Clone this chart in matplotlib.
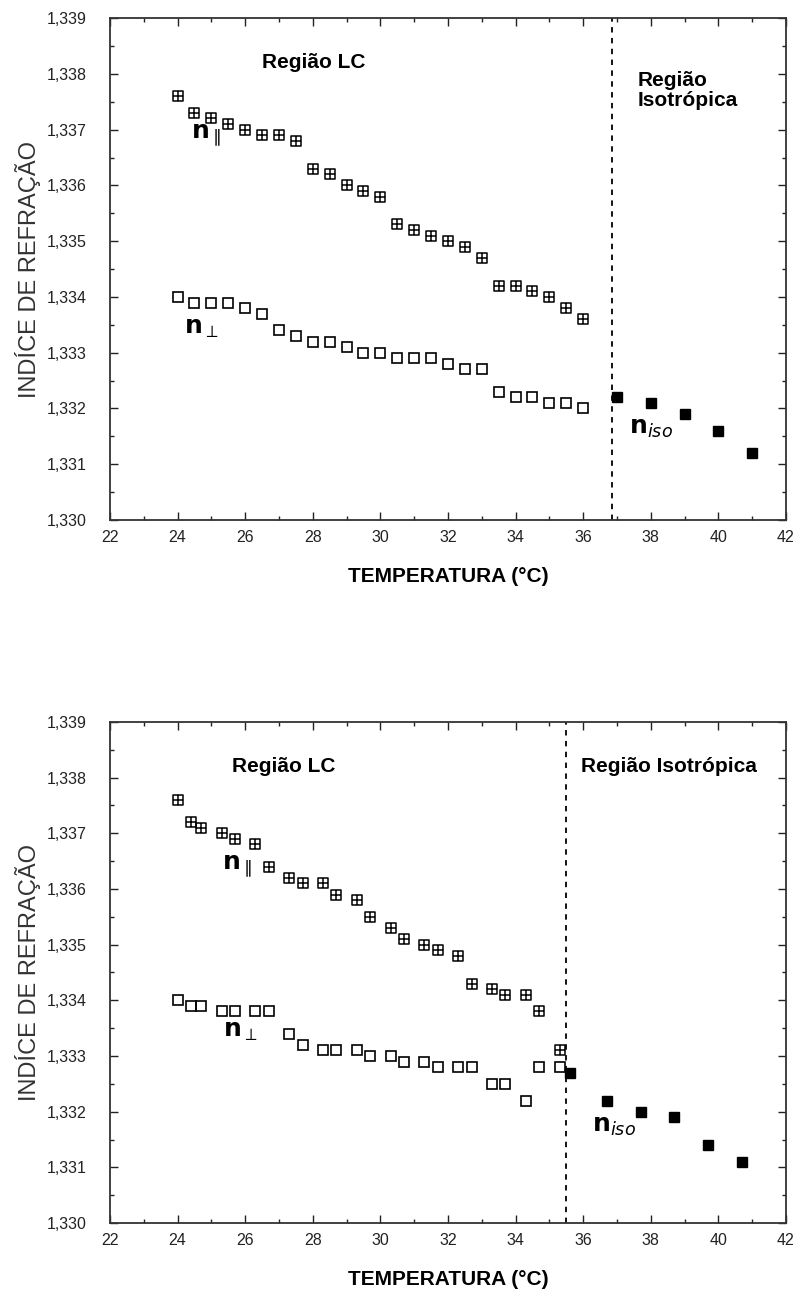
import numpy as np
import matplotlib
matplotlib.use('agg')
import matplotlib.pyplot as plt
from matplotlib.path import Path
from matplotlib.ticker import MultipleLocator, FuncFormatter

# ---- data ----
temp_top = [24.0, 24.5, 25.0, 25.5, 26.0, 26.5, 27.0, 27.5, 28.0, 28.5, 29.0, 29.5,
            30.0, 30.5, 31.0, 31.5, 32.0, 32.5, 33.0, 33.5, 34.0, 34.5, 35.0, 35.5, 36.0]
n_par_top = [1.3376, 1.3373, 1.3372, 1.3371, 1.3370, 1.3369, 1.3369, 1.3368, 1.3363,
             1.3362, 1.3360, 1.3359, 1.3358, 1.3353, 1.3352, 1.3351, 1.3350, 1.3349,
             1.3347, 1.3342, 1.3342, 1.3341, 1.3340, 1.3338, 1.3336]
n_perp_top = [1.3340, 1.3339, 1.3339, 1.3339, 1.3338, 1.3337, 1.3334, 1.3333, 1.3332,
              1.3332, 1.3331, 1.3330, 1.3330, 1.3329, 1.3329, 1.3329, 1.3328, 1.3327,
              1.3327, 1.3323, 1.3322, 1.3322, 1.3321, 1.3321, 1.3320]
temp_iso_top = [37.0, 38.0, 39.0, 40.0, 41.0]
n_iso_top = [1.3322, 1.3321, 1.3319, 1.3316, 1.3312]
t_transition_top = 36.85

temp_bot = [24.0, 24.4, 24.7, 25.3, 25.7, 26.3, 26.7, 27.3, 27.7, 28.3, 28.7, 29.3,
            29.7, 30.3, 30.7, 31.3, 31.7, 32.3, 32.7, 33.3, 33.7, 34.3, 34.7, 35.3]
n_par_bot = [1.3376, 1.3372, 1.3371, 1.3370, 1.3369, 1.3368, 1.3364, 1.3362, 1.3361,
             1.3361, 1.3359, 1.3358, 1.3355, 1.3353, 1.3351, 1.3350, 1.3349, 1.3348,
             1.3343, 1.3342, 1.3341, 1.3341, 1.3338, 1.3331]
n_perp_bot = [1.3340, 1.3339, 1.3339, 1.3338, 1.3338, 1.3338, 1.3338, 1.3334, 1.3332,
              1.3331, 1.3331, 1.3331, 1.3330, 1.3330, 1.3329, 1.3329, 1.3328, 1.3328,
              1.3328, 1.3325, 1.3325, 1.3322, 1.3328, 1.3328]
temp_iso_bot = [35.6, 36.7, 37.7, 38.7, 39.7, 40.7]
n_iso_bot = [1.3327, 1.3322, 1.3320, 1.3319, 1.3314, 1.3311]
t_transition_bot = 35.5

# square with a cross inside (the "n parallel" symbol)
boxcross = Path([(-1, -1), (1, -1), (1, 1), (-1, 1), (-1, -1),
                 (0, -1), (0, 1), (-1, 0), (1, 0)],
                [Path.MOVETO, Path.LINETO, Path.LINETO, Path.LINETO, Path.CLOSEPOLY,
                 Path.MOVETO, Path.LINETO, Path.MOVETO, Path.LINETO])

plt.rcParams['font.family'] = ['Liberation Sans', 'DejaVu Sans']
narrow = ['Liberation Sans Narrow', 'Liberation Sans', 'DejaVu Sans']

fig = plt.figure(figsize=(7.94, 12.92), dpi=100)
ax_top = fig.add_axes([0.1385, 0.5975, 0.8514, 0.3885])
ax_bot = fig.add_axes([0.1385, 0.0534, 0.8514, 0.3878])


def comma(v, pos):
    return '{:.3f}'.format(v).replace('.', ',')


def style_axes(ax):
    ax.set_xlim(22, 42)
    ax.set_ylim(1.330, 1.339)
    ax.xaxis.set_major_locator(MultipleLocator(2))
    ax.xaxis.set_minor_locator(MultipleLocator(1))
    ax.yaxis.set_major_locator(MultipleLocator(0.001))
    ax.yaxis.set_minor_locator(MultipleLocator(0.0005))
    ax.yaxis.set_major_formatter(FuncFormatter(comma))
    ax.tick_params(which='both', direction='in', top=True, right=True,
                   labelsize=11.5, colors='#222222', width=1.0)
    ax.tick_params(which='major', length=6)
    ax.tick_params(which='minor', length=3)
    ax.tick_params(axis='x', which='major', pad=7)
    ax.tick_params(axis='y', which='major', pad=17)
    for s in ax.spines.values():
        s.set_linewidth(1.3)
        s.set_color('#333333')
    ax.set_ylabel('INDÍCE DE REFRAÇÃO', fontsize=17, color='#333333', labelpad=4)
    ax.set_xlabel('TEMPERATURA (°C)', fontsize=15, fontweight='bold',
                  family=narrow, labelpad=16)


def draw_panel(ax, t, npar, nperp, tiso, niso, t_tr):
    ax.plot(t, npar, linestyle='none', marker=boxcross, markersize=7,
            markerfacecolor='none', markeredgecolor='black', markeredgewidth=1.1)
    ax.plot(t, nperp, linestyle='none', marker='s', markersize=7,
            markerfacecolor='none', markeredgecolor='black', markeredgewidth=1.2)
    ax.plot(tiso, niso, linestyle='none', marker='s', markersize=7.5,
            markerfacecolor='black', markeredgecolor='black')
    ax.axvline(t_tr, color='black', linestyle=(0, (3, 3)), linewidth=1.3)
    style_axes(ax)


draw_panel(ax_top, temp_top, n_par_top, n_perp_top, temp_iso_top, n_iso_top,
           t_transition_top)
draw_panel(ax_bot, temp_bot, n_par_bot, n_perp_bot, temp_iso_bot, n_iso_bot,
           t_transition_bot)

lbl = dict(fontsize=18, color='black')
# top panel annotations
ax_top.text(26.5, 1.3382, 'Região LC', fontsize=15, fontweight='bold',
            family=narrow, va='center')
ax_top.text(37.6, 1.3377, 'Região\nIsotrópica', fontsize=15, fontweight='bold',
            family=narrow, va='center', linespacing=1.1)
ax_top.text(24.4, 1.3369, r'$\mathbf{n}_{\parallel}$', va='center', **lbl)
ax_top.text(24.2, 1.33345, r'$\mathbf{n}_{\perp}$', va='center', **lbl)
ax_top.text(37.35, 1.33165, r'$\mathbf{n}_{\mathit{iso}}$', va='center', **lbl)

# bottom panel annotations
ax_bot.text(25.6, 1.3382, 'Região LC', fontsize=15, fontweight='bold',
            family=narrow, va='center')
ax_bot.text(35.95, 1.3382, 'Região Isotrópica', fontsize=15, fontweight='bold',
            family=narrow, va='center')
ax_bot.text(25.3, 1.3364, r'$\mathbf{n}_{\parallel}$', va='center', **lbl)
ax_bot.text(25.35, 1.33345, r'$\mathbf{n}_{\perp}$', va='center', **lbl)
ax_bot.text(36.25, 1.33175, r'$\mathbf{n}_{\mathit{iso}}$', va='center', **lbl)

fig.savefig('out.png', dpi=100)
plt.close()
